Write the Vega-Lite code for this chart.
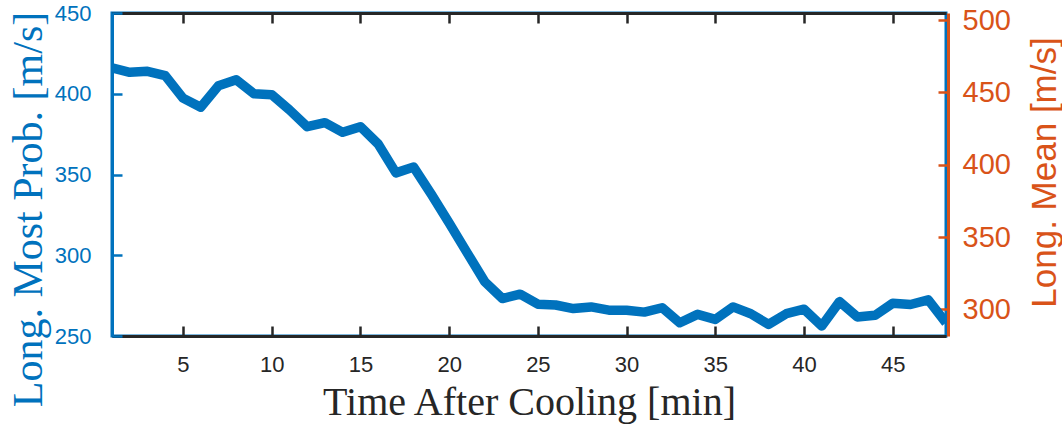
{
  "$schema": "https://vega.github.io/schema/vega-lite/v6.json",
  "width": 834,
  "height": 323,
  "autosize": {"type": "none"},
  "padding": {"left": 112, "top": 13, "right": 116, "bottom": 89},
  "background": "white",
  "config": {
    "view": {"stroke": "#0072BD", "strokeWidth": 3},
    "font": "Liberation Sans"
  },
  "data": {
    "values": [
      {"t": 1, "mp": 416}, {"t": 2, "mp": 413.3}, {"t": 3, "mp": 413.9}, {"t": 4, "mp": 411.2},
      {"t": 5, "mp": 397.3}, {"t": 6, "mp": 391.7}, {"t": 7, "mp": 405}, {"t": 8, "mp": 408.7},
      {"t": 9, "mp": 400}, {"t": 10, "mp": 399.4}, {"t": 11, "mp": 390}, {"t": 12, "mp": 379.6},
      {"t": 13, "mp": 382.1}, {"t": 14, "mp": 376.1}, {"t": 15, "mp": 379.6}, {"t": 16, "mp": 368.9},
      {"t": 17, "mp": 351}, {"t": 18, "mp": 354.6}, {"t": 19, "mp": 337.7}, {"t": 20, "mp": 320},
      {"t": 21, "mp": 301.8}, {"t": 22, "mp": 283.7}, {"t": 23, "mp": 273.2}, {"t": 24, "mp": 275.9},
      {"t": 25, "mp": 269.7}, {"t": 26, "mp": 269.2}, {"t": 27, "mp": 267}, {"t": 28, "mp": 268},
      {"t": 29, "mp": 266}, {"t": 30, "mp": 266}, {"t": 31, "mp": 264.8}, {"t": 32, "mp": 267.5},
      {"t": 33, "mp": 258.2}, {"t": 34, "mp": 263.4}, {"t": 35, "mp": 260.3}, {"t": 36, "mp": 268},
      {"t": 37, "mp": 263.8}, {"t": 38, "mp": 257.2}, {"t": 39, "mp": 263.8}, {"t": 40, "mp": 266.6},
      {"t": 41, "mp": 256.2}, {"t": 42, "mp": 271.3}, {"t": 43, "mp": 261.8}, {"t": 44, "mp": 262.8},
      {"t": 45, "mp": 270.3}, {"t": 46, "mp": 269.5}, {"t": 47, "mp": 272.4}, {"t": 48, "mp": 258.2}
    ]
  },
  "layer": [
    {
      "mark": {"type": "line", "color": "#0072BD", "strokeWidth": 9.5, "strokeJoin": "round", "clip": true},
      "encoding": {
        "x": {
          "field": "t", "type": "quantitative",
          "scale": {"domain": [1, 48], "nice": false, "zero": false},
          "axis": {
            "orient": "bottom",
            "values": [5, 10, 15, 20, 25, 30, 35, 40, 45],
            "grid": false,
            "domainColor": "#262626", "domainWidth": 3,
            "tickColor": "#262626", "tickWidth": 2.5, "tickSize": -10,
            "labelFont": "Liberation Sans", "labelFontSize": 22, "labelColor": "#262626",
            "labelPadding": 28, "labelFlush": false,
            "title": "Time After Cooling [min]",
            "titleFont": "Liberation Serif", "titleFontSize": 40, "titleFontWeight": "normal",
            "titleColor": "#262626", "titleBaseline": "alphabetic", "titleY": 78, "titleX": 417
          }
        },
        "y": {
          "field": "mp", "type": "quantitative",
          "scale": {"domain": [250, 450], "nice": false, "zero": false},
          "axis": {
            "orient": "left",
            "values": [250, 300, 350, 400, 450],
            "grid": false,
            "domainColor": "#0072BD", "domainWidth": 3,
            "tickColor": "#0072BD", "tickWidth": 2.5, "tickSize": -10,
            "labelFont": "Liberation Sans", "labelFontSize": 22, "labelColor": "#0072BD",
            "labelPadding": 31, "labelBaseline": "middle",
            "title": "Long. Most Prob. [m/s]",
            "titleFont": "Liberation Serif", "titleFontSize": 42, "titleFontWeight": "normal",
            "titleColor": "#0072BD", "titleAngle": -90, "titleBaseline": "alphabetic",
            "titleAlign": "center", "titleX": -71, "titleY": 196
          }
        }
      }
    },
    {
      "mark": {"type": "line", "opacity": 0},
      "encoding": {
        "x": {
          "field": "t", "type": "quantitative",
          "scale": {"domain": [1, 48], "nice": false, "zero": false},
          "axis": {
            "orient": "top",
            "values": [5, 10, 15, 20, 25, 30, 35, 40, 45],
            "grid": false, "labels": false, "title": null,
            "domainColor": "#262626", "domainWidth": 3,
            "tickColor": "#262626", "tickWidth": 2.5, "tickSize": -10
          }
        },
        "y": {
          "field": "mp", "type": "quantitative",
          "scale": {"domain": [281.5, 505], "nice": false, "zero": false},
          "axis": {
            "orient": "right",
            "values": [300, 350, 400, 450, 500],
            "grid": false, "offset": 2,
            "domainColor": "#D95319", "domainWidth": 3,
            "tickColor": "#D95319", "tickWidth": 2.5, "tickSize": -10,
            "labelFont": "Liberation Sans", "labelFontSize": 29, "labelColor": "#D95319",
            "labelPadding": 24, "labelBaseline": "middle",
            "title": "Long. Mean [m/s]",
            "titleFont": "Liberation Sans", "titleFontSize": 35, "titleFontWeight": "normal",
            "titleColor": "#D95319", "titleAngle": -90, "titleBaseline": "alphabetic",
            "titleAlign": "center", "titleX": 107, "titleY": 159
          }
        }
      }
    }
  ],
  "resolve": {
    "scale": {"y": "independent"},
    "axis": {"x": "independent", "y": "independent"}
  }
}
